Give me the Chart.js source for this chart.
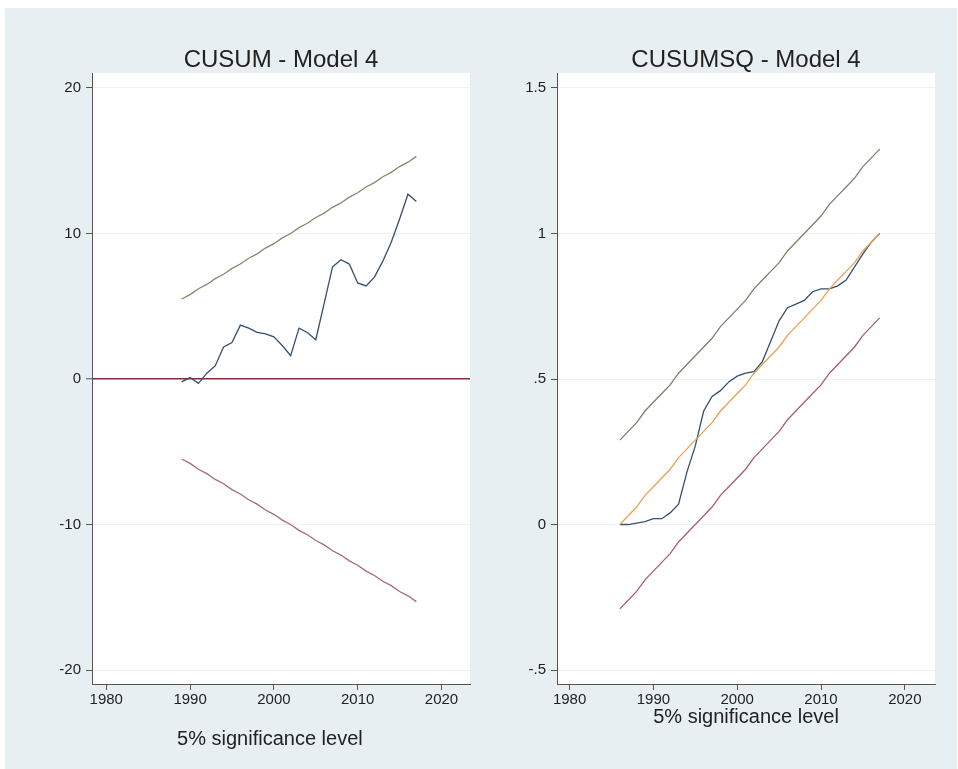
<!DOCTYPE html>
<html>
<head>
<meta charset="utf-8">
<script src="https://cdn.jsdelivr.net/npm/chart.js@4.4.0/dist/chart.umd.min.js"></script>
<style>
  body { margin: 0; background: #fff; overflow: hidden; }
  #bg { position: absolute; left: 5px; top: 8px; width: 952px; height: 761px; background: #e8eff2; }
  canvas { position: absolute; top: 0; }
</style>
</head>
<body>
<div id="bg"></div>
<canvas id="cusum" width="480" height="769" style="left:0"></canvas>
<canvas id="cusumsq" width="478" height="769" style="left:480px"></canvas>
<script>
// x axis ticks (shared)
const yearTicks = [1980, 1990, 2000, 2010, 2020];

// CUSUM - Model 4
const cusumYears = [1989, 1990, 1991, 1992, 1993, 1994, 1995, 1996, 1997, 1998,
  1999, 2000, 2001, 2002, 2003, 2004, 2005, 2006, 2007, 2008,
  2009, 2010, 2011, 2012, 2013, 2014, 2015, 2016, 2017];
const cusum = [-0.2, 0.1, -0.3, 0.4, 0.9, 2.2, 2.5, 3.7, 3.5, 3.2,
  3.1, 2.9, 2.3, 1.6, 3.5, 3.2, 2.7, 5.2, 7.7, 8.2,
  7.9, 6.6, 6.4, 7.0, 8.1, 9.4, 11.0, 12.7, 12.2];
const cusumUpper = [5.5, 5.8, 6.2, 6.5, 6.9, 7.2, 7.6, 7.9, 8.3, 8.6,
  9.0, 9.3, 9.7, 10.0, 10.4, 10.7, 11.1, 11.4, 11.8, 12.1,
  12.5, 12.8, 13.2, 13.5, 13.9, 14.2, 14.6, 14.9, 15.3];
const cusumLower = [-5.5, -5.8, -6.2, -6.5, -6.9, -7.2, -7.6, -7.9, -8.3, -8.6,
  -9.0, -9.3, -9.7, -10.0, -10.4, -10.7, -11.1, -11.4, -11.8, -12.1,
  -12.5, -12.8, -13.2, -13.5, -13.9, -14.2, -14.6, -14.9, -15.3];
const cusumTicks = [-20, -10, 0, 10, 20];
const cusumTickLabels = ['-20', '-10', '0', '10', '20'];

// CUSUMSQ - Model 4
const sqYears = [1986, 1987, 1988, 1989, 1990, 1991, 1992, 1993, 1994, 1995,
  1996, 1997, 1998, 1999, 2000, 2001, 2002, 2003, 2004, 2005,
  2006, 2007, 2008, 2009, 2010, 2011, 2012, 2013, 2014, 2015, 2016, 2017];
const cusumsq = [0.00, 0.00, 0.005, 0.01, 0.02, 0.02, 0.04, 0.07, 0.18, 0.27,
  0.39, 0.44, 0.46, 0.49, 0.51, 0.52, 0.525, 0.56, 0.63, 0.70,
  0.745, 0.757, 0.77, 0.80, 0.81, 0.81, 0.82, 0.84, 0.885, 0.93, 0.97, 1.00];
const sqExpected = [0, .03, .06, .10, .13, .16, .19, .23, .26, .29,
  .32, .35, .39, .42, .45, .48, .52, .55, .58, .61,
  .65, .68, .71, .74, .77, .81, .84, .87, .90, .94, .97, 1.00];
const sqUpper = [.29, .32, .35, .39, .42, .45, .48, .52, .55, .58,
  .61, .64, .68, .71, .74, .77, .81, .84, .87, .90,
  .94, .97, 1.00, 1.03, 1.06, 1.10, 1.13, 1.16, 1.19, 1.23, 1.26, 1.29];
const sqLower = [-.29, -.26, -.23, -.19, -.16, -.13, -.10, -.06, -.03, 0,
  .03, .06, .10, .13, .16, .19, .23, .26, .29, .32,
  .36, .39, .42, .45, .48, .52, .55, .58, .61, .65, .68, .71];
const sqTicks = [-0.5, 0, 0.5, 1, 1.5];
const sqTickLabels = ['-.5', '0', '.5', '1', '1.5'];

const FONT = "'Liberation Sans', Arial, sans-serif";
const TEXT = '#222';
const AXIS = '#555';
const GRID = '#eef2f4';

function points(xs, ys) {
  return xs.map(function(x, i) { return {x: x, y: ys[i]}; });
}

function lineSet(label, xs, ys, color) {
  return {
    label: label,
    data: points(xs, ys),
    borderColor: color,
    borderWidth: 1.3,
    pointRadius: 0,
    tension: 0,
    fill: false,
  };
}

// white plot region like the stata plotregion
const plotBg = {
  id: 'plot_bg',
  beforeDraw: (chart) => {
    const a = chart.chartArea;
    const ctx = chart.ctx;
    ctx.save();
    ctx.fillStyle = '#ffffff';
    ctx.fillRect(a.left, a.top, a.right - a.left, a.bottom - a.top);
    ctx.restore();
  }
};

function makeChart(id, o) {
  return new Chart(document.getElementById(id), {
    type: 'line',
    data: { datasets: o.datasets },
    plugins: [plotBg],
    options: {
      responsive: false,
      animation: false,
      devicePixelRatio: 1,
      layout: { padding: { left: 0, top: 0, right: o.padRight, bottom: o.padBottom } },
      plugins: {
        legend: { display: false },
        tooltip: { enabled: false },
        title: {
          display: true,
          text: o.title,
          fullSize: false,   // centre over the plot region
          color: TEXT,
          font: { family: FONT, size: 24, weight: 'normal', lineHeight: 1 },
          padding: { top: 48, bottom: 1 },
        },
      },
      scales: {
        x: {
          type: 'linear',
          min: o.xMin,
          max: o.xMax,
          afterBuildTicks: (s) => { s.ticks = yearTicks.map(v => ({value: v})); },
          afterFit: (s) => { s.height = o.xAxisHeight; },
          ticks: {
            color: TEXT,
            font: { family: FONT, size: 15 },
            padding: 1,
            maxRotation: 0,
            callback: (v) => String(v),
          },
          grid: { drawOnChartArea: false, color: AXIS, tickColor: AXIS, tickLength: 6, tickWidth: 1 },
          border: { display: true, color: AXIS, width: 1 },
          title: {
            display: true,
            text: o.xTitle,
            color: TEXT,
            font: { family: FONT, size: 20 },
            padding: 0,
          },
        },
        y: {
          min: o.yMin,
          max: o.yMax,
          afterBuildTicks: (s) => { s.ticks = o.yTicks.map(v => ({value: v})); },
          afterFit: (s) => { s.width = o.yAxisWidth; },
          ticks: {
            color: TEXT,
            font: { family: FONT, size: 15 },
            padding: 5,
            callback: (v) => o.yLabels[o.yTicks.indexOf(v)],
          },
          grid: {
            color: (c) => (o.zeroColor && c.tick && c.tick.value === 0) ? o.zeroColor : GRID,
            lineWidth: (c) => (o.zeroColor && c.tick && c.tick.value === 0) ? 1.6 : 1,
            tickColor: AXIS,
            tickLength: 6,
            tickWidth: 1,
          },
          border: { display: true, color: AXIS, width: 1 },
        },
      },
    },
  });
}

makeChart('cusum', {
  title: 'CUSUM - Model 4',
  // trailing spaces nudge the centred caption a little left, as in the original
  xTitle: '5% significance level    ',
  datasets: [
    lineSet('upper', cusumYears, cusumUpper, '#8a876a'),
    lineSet('lower', cusumYears, cusumLower, '#a46b7b'),
    lineSet('CUSUM', cusumYears, cusum, '#34506e'),
  ],
  xMin: 1978.3, xMax: 2023.4,
  yMin: -20.96, yMax: 21.03,
  yTicks: cusumTicks, yLabels: cusumTickLabels,
  yAxisWidth: 92,
  padRight: 10, padBottom: 18, xAxisHeight: 67,
  zeroColor: '#8a2a35',
});

makeChart('cusumsq', {
  title: 'CUSUMSQ - Model 4',
  xTitle: '5% significance level',
  datasets: [
    lineSet('upper', sqYears, sqUpper, '#807f68'),
    lineSet('expected', sqYears, sqExpected, '#e9a250'),
    lineSet('lower', sqYears, sqLower, '#a4606f'),
    lineSet('CUSUMSQ', sqYears, cusumsq, '#34506e'),
  ],
  xMin: 1978.5, xMax: 2023.6,
  yMin: -0.548, yMax: 1.5515,
  yTicks: sqTicks, yLabels: sqTickLabels,
  yAxisWidth: 77,
  padRight: 23, padBottom: 40, xAxisHeight: 45,
});
</script>
</body>
</html>
